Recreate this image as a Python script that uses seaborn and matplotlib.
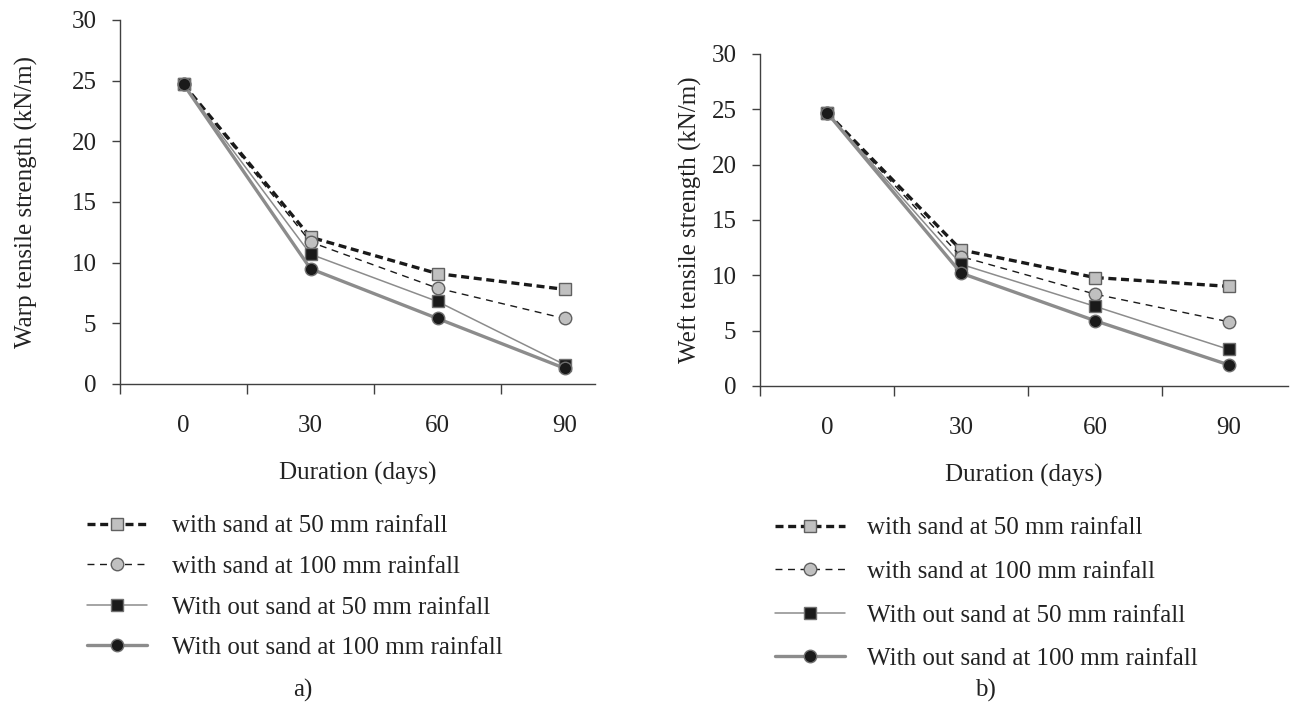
import numpy as np
import pandas as pd
import seaborn as sns
import matplotlib
matplotlib.use("Agg")
import matplotlib.pyplot as plt
from matplotlib.ticker import FixedLocator, NullFormatter

# ---------------- data ----------------
durations = ["0", "30", "60", "90"]
series_names = [
    "with sand at 50 mm rainfall",
    "with sand at 100 mm rainfall",
    "With out sand at 50 mm rainfall",
    "With out sand at 100 mm rainfall",
]
warp_sand_50 = [24.7, 12.1, 9.1, 7.8]
warp_sand_100 = [24.7, 11.7, 7.9, 5.4]
warp_nosand_50 = [24.7, 10.7, 6.8, 1.6]
warp_nosand_100 = [24.7, 9.5, 5.4, 1.3]

weft_sand_50 = [24.7, 12.3, 9.8, 9.0]
weft_sand_100 = [24.7, 11.7, 8.3, 5.8]
weft_nosand_50 = [24.7, 11.0, 7.2, 3.3]
weft_nosand_100 = [24.7, 10.2, 5.9, 1.9]

y_ticks = [0, 5, 10, 15, 20, 25, 30]

# ---------------- style ----------------
sns.set_style("ticks")
plt.rcParams["font.family"] = ["Liberation Serif", "DejaVu Serif"]
plt.rcParams["font.size"] = 18
plt.rcParams["axes.edgecolor"] = "#404040"
plt.rcParams["axes.linewidth"] = 1.0

styles = [
    dict(color="#1a1a1a", lw=2.4, ls=(0, (2.4, 1.4)), marker="s", mfc="#c0c0c0", mec="#606060"),
    dict(color="#1a1a1a", lw=1.0, ls=(0, (5, 4)), marker="o", mfc="#c0c0c0", mec="#606060"),
    dict(color="#8c8c8c", lw=1.1, ls="-", marker="s", mfc="#1a1a1a", mec="#707070"),
    dict(color="#8c8c8c", lw=2.4, ls="-", marker="o", mfc="#1a1a1a", mec="#707070"),
]

fig = plt.figure(figsize=(12.94, 7.07), dpi=100)
W, H = 1294, 707


def fx(px):
    return px / W


def fy(py):
    return 1 - py / H


def panel(rect, datasets, xmax, ylabel, ylabelpad, leg_anchor, handlelength, textpad,
          spacing, letter, letter_xy):
    ax = fig.add_axes(rect)
    x_pos = np.arange(len(durations))
    for name, vals, st in zip(series_names, datasets, styles):
        df = pd.DataFrame({"x": x_pos, "y": vals})
        sns.lineplot(data=df, x="x", y="y", ax=ax, color=st["color"], linewidth=st["lw"],
                     linestyle=st["ls"], marker=st["marker"], markersize=9,
                     markerfacecolor=st["mfc"], markeredgecolor=st["mec"], markeredgewidth=1.0,
                     label=name, legend=False)
    ax.set_xlim(-0.5, xmax)
    ax.set_ylim(0, 30)
    ax.set_yticks(y_ticks)
    ax.set_yticklabels([str(t) for t in y_ticks])
    ax.xaxis.set_major_locator(FixedLocator([-0.5, 0.5, 1.5, 2.5]))
    ax.xaxis.set_major_formatter(NullFormatter())
    ax.xaxis.set_minor_locator(FixedLocator(list(x_pos)))
    ax.set_xticklabels(durations, minor=True)
    ax.tick_params(axis="x", which="major", length=7, width=1, color="#404040", direction="out")
    ax.tick_params(axis="x", which="minor", length=0, pad=22, labelsize=18, labelcolor="#222222")
    ax.tick_params(axis="y", length=6, width=1, color="#404040", direction="out", pad=11,
                   labelsize=18, labelcolor="#222222")
    sns.despine(ax=ax)
    ax.set_xlabel("Duration (days)", fontsize=18, color="#222222", labelpad=18)
    ax.set_ylabel(ylabel, fontsize=18, color="#222222", labelpad=ylabelpad)
    handles, labels = ax.get_legend_handles_labels()
    fig.legend(handles, labels, loc="upper left", bbox_to_anchor=leg_anchor,
               bbox_transform=fig.transFigure, frameon=False, fontsize=18,
               handlelength=handlelength, handletextpad=textpad, labelspacing=spacing,
               borderpad=0, borderaxespad=0, labelcolor="#222222")
    fig.text(letter_xy[0], letter_xy[1], letter, ha="center", va="center", fontsize=18, color="#222222")
    return ax


warp = [warp_sand_50, warp_sand_100, warp_nosand_50, warp_nosand_100]
weft = [weft_sand_50, weft_sand_100, weft_nosand_50, weft_nosand_100]

panel([fx(120), fy(384), fx(475), (384 - 20) / H], warp, 3.24,
      "Warp tensile strength (kN/m)", 24, (fx(87), fy(515)), 2.4, 1.0, 0.72,
      "a)", (fx(303), fy(690)))
panel([fx(760), fy(386), fx(528), (386 - 54) / H], weft, 3.44,
      "Weft tensile strength (kN/m)", 7, (fx(775), fy(517)), 2.8, 0.88, 0.84,
      "b)", (fx(985), fy(690)))

fig.savefig("out.png", dpi=100, facecolor="white")
